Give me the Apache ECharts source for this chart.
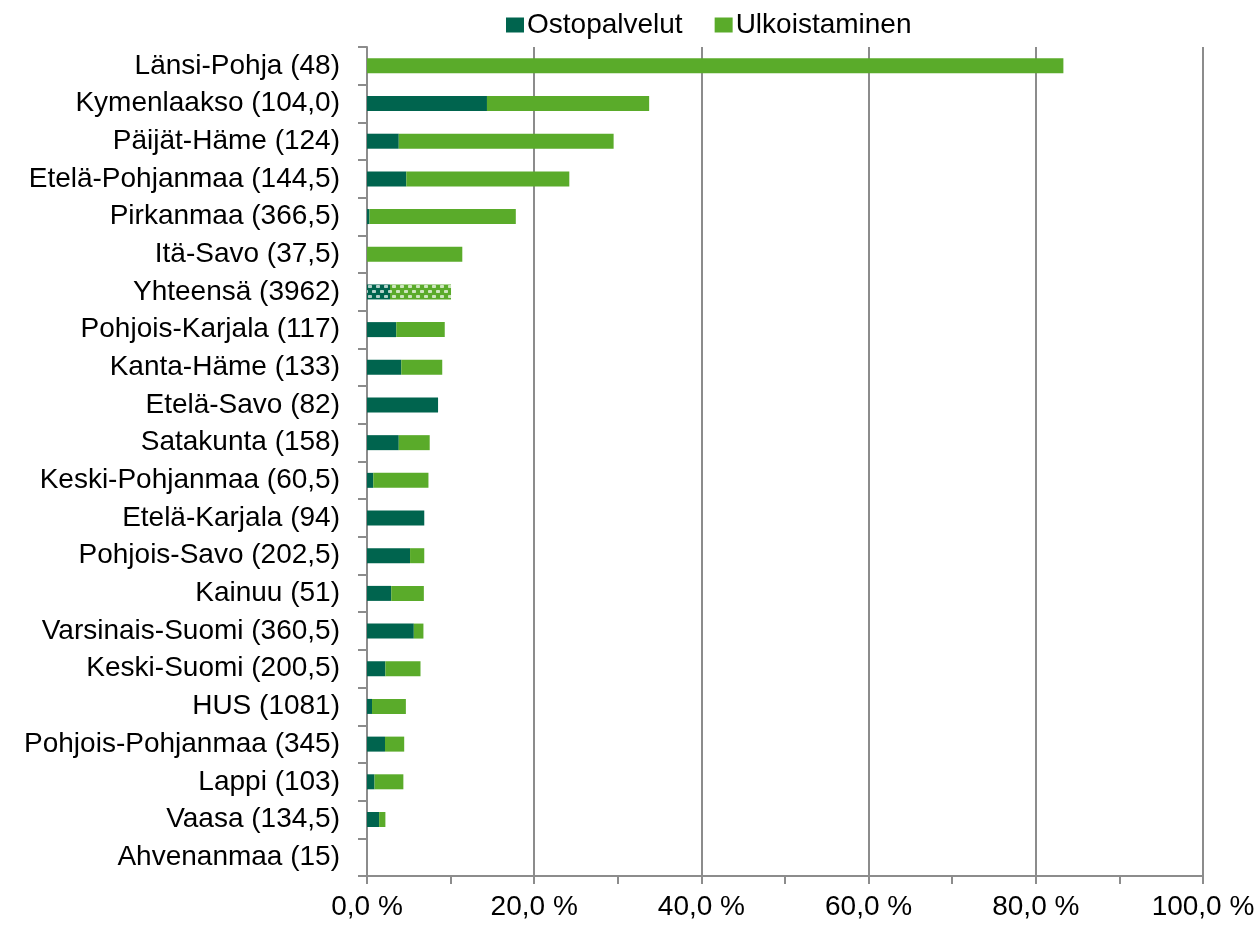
<!DOCTYPE html>
<html>
<head>
<meta charset="utf-8">
<script src="https://cdn.jsdelivr.net/npm/echarts@6/dist/echarts.min.js"></script>
<style>
  html, body { margin: 0; padding: 0; background: #fff; }
</style>
</head>
<body>
<div id="chart" style="width: 1260px; height: 926px;"></div>
<script>
const categories = [
  'Länsi-Pohja (48)', 'Kymenlaakso (104,0)', 'Päijät-Häme (124)', 'Etelä-Pohjanmaa (144,5)',
  'Pirkanmaa (366,5)', 'Itä-Savo (37,5)', 'Yhteensä (3962)', 'Pohjois-Karjala (117)',
  'Kanta-Häme (133)', 'Etelä-Savo (82)', 'Satakunta (158)', 'Keski-Pohjanmaa (60,5)',
  'Etelä-Karjala (94)', 'Pohjois-Savo (202,5)', 'Kainuu (51)', 'Varsinais-Suomi (360,5)',
  'Keski-Suomi (200,5)', 'HUS (1081)', 'Pohjois-Pohjanmaa (345)', 'Lappi (103)',
  'Vaasa (134,5)', 'Ahvenanmaa (15)'
]
const ostopalvelut = [
  0, 14.35, 3.8, 4.7, 0.3, 0, 2.75, 3.5, 4.1, 8.5, 3.8, 0.75,
  6.85, 5.15, 2.9, 5.6, 2.2, 0.6, 2.15, 0.9, 1.45, 0
]
const ulkoistaminen = [
  83.3, 19.4, 25.7, 19.5, 17.5, 11.4, 7.3, 5.8, 4.9, 0, 3.7, 6.6,
  0, 1.7, 3.9, 1.15, 4.2, 4.05, 2.3, 3.45, 0.75, 0
]
const totalRow = 'Yhteensä (3962)'

const darkGreen = '#00644e'
const lightGreen = '#5aab2a'
const axisGray = '#8c8c8c'

// dotted fill for the total row
const dots = {
  symbol: 'roundRect',
  symbolSize: 1,
  color: 'rgba(255,255,255,0.7)',
  dashArrayX: [[4, 4], [0, 4, 4, 0]],
  dashArrayY: [3, 2],
  rotation: 0
}

function withPattern(values) {
  return values.map((v, i) => {
    if (categories[i] === totalRow) {
      return { value: v, itemStyle: { decal: dots } }
    }
    return v
  })
}

const myChart = echarts.init(document.getElementById('chart'))
myChart.setOption({
  animation: false,
  textStyle: { fontFamily: 'Liberation Sans, Arial, sans-serif' },
  legend: {
    top: 6,
    left: 501,
    itemWidth: 18,
    itemHeight: 15,
    itemGap: 32,
    icon: 'rect',
    textStyle: { fontSize: 28, color: '#000', padding: [0, 0, 0, -2] },
    data: ['Ostopalvelut', 'Ulkoistaminen']
  },
  grid: {
    left: 367,
    width: 836,
    top: 47,
    height: 829,
    containLabel: false
  },
  xAxis: {
    type: 'value',
    min: 0,
    max: 100,
    interval: 20,
    axisLine: { show: true, lineStyle: { color: axisGray, width: 2 } },
    axisTick: { show: true, length: 8, lineStyle: { color: axisGray, width: 2 } },
    minorTick: { show: true, splitNumber: 2, length: 8, lineStyle: { color: axisGray, width: 2 } },
    splitLine: { show: true, lineStyle: { color: axisGray, width: 2 } },
    axisLabel: {
      fontSize: 28,
      color: '#000',
      margin: 17,
      formatter: (v) => v.toFixed(1).replace('.', ',') + ' %'
    }
  },
  yAxis: {
    type: 'category',
    inverse: true,
    data: categories,
    axisLine: { show: true, lineStyle: { color: axisGray, width: 2 } },
    axisTick: { show: true, length: 9, lineStyle: { color: axisGray, width: 2 } },
    axisLabel: { fontSize: 28, color: '#000', margin: 27 }
  },
  series: [
    {
      name: 'Ostopalvelut',
      type: 'bar',
      stack: 'total',
      barWidth: 15,
      itemStyle: { color: darkGreen },
      data: withPattern(ostopalvelut)
    },
    {
      name: 'Ulkoistaminen',
      type: 'bar',
      stack: 'total',
      barWidth: 15,
      itemStyle: { color: lightGreen },
      data: withPattern(ulkoistaminen)
    }
  ]
})
</script>
</body>
</html>
